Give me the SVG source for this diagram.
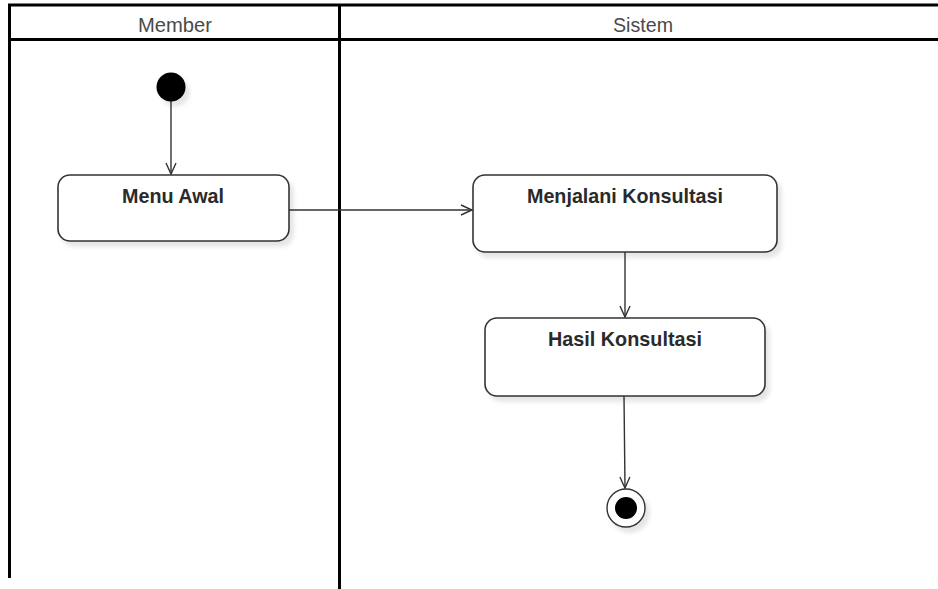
<svg xmlns="http://www.w3.org/2000/svg" width="938" height="589" viewBox="0 0 938 589">
  <style>
    .lane { stroke: #000; stroke-width: 3; fill: none; }
    .hdr { font-family: "Liberation Sans", Arial, sans-serif; font-size: 21px; fill: #4a4a4a; text-anchor: middle; }
    .act rect { fill: #fff; stroke: #333; stroke-width: 1.6; }
    .act text { font-family: "Liberation Sans", Arial, sans-serif; font-size: 21px; font-weight: bold; fill: #2a2a2a; text-anchor: middle; }
    .flow { stroke: #333; stroke-width: 1.4; fill: none; }
  </style>
  <defs>
    <filter id="shadow" x="-10%" y="-10%" width="130%" height="140%">
      <feDropShadow dx="4" dy="5" stdDeviation="2" flood-color="#000" flood-opacity="0.1"/>
    </filter>
    <marker id="open" markerWidth="14" markerHeight="12" refX="12" refY="6" orient="auto" markerUnits="userSpaceOnUse">
      <path d="M1,1 L12,6 L1,11" fill="none" stroke="#333" stroke-width="1.4"/>
    </marker>
  </defs>

  <rect width="938" height="589" fill="#fff"/>

  <!-- swimlanes -->
  <g id="lanes">
    <line class="lane" x1="8" y1="5" x2="938" y2="5"/>
    <line class="lane" x1="8" y1="39.5" x2="938" y2="39.5"/>
    <line class="lane" x1="9.5" y1="4" x2="9.5" y2="578"/>
    <line class="lane" x1="339.5" y1="4" x2="339.5" y2="589"/>
    <text class="hdr" x="175" y="32" textLength="74" lengthAdjust="spacingAndGlyphs">Member</text>
    <text class="hdr" x="643" y="32" textLength="60" lengthAdjust="spacingAndGlyphs">Sistem</text>
  </g>

  <!-- connectors -->
  <g id="connectors">
    <line class="flow" x1="171" y1="101" x2="171" y2="174" marker-end="url(#open)"/>
    <line class="flow" x1="289" y1="210" x2="472" y2="210" marker-end="url(#open)"/>
    <line class="flow" x1="625" y1="252" x2="625" y2="317" marker-end="url(#open)"/>
    <line class="flow" x1="624" y1="396" x2="625" y2="488" marker-end="url(#open)"/>
  </g>

  <g id="start">
    <circle cx="171" cy="87" r="14.5" fill="#000" filter="url(#shadow)"/>
  </g>

  <g id="menu-awal" class="act">
    <rect x="58" y="175" width="231" height="66" rx="12" filter="url(#shadow)"/>
    <text x="173" y="203" textLength="102" lengthAdjust="spacingAndGlyphs">Menu Awal</text>
  </g>

  <g id="menjalani-konsultasi" class="act">
    <rect x="473" y="175" width="304" height="77" rx="12" filter="url(#shadow)"/>
    <text x="625" y="203" textLength="196" lengthAdjust="spacingAndGlyphs">Menjalani Konsultasi</text>
  </g>

  <g id="hasil-konsultasi" class="act">
    <rect x="485" y="318" width="280" height="78" rx="12" filter="url(#shadow)"/>
    <text x="625" y="346" textLength="154" lengthAdjust="spacingAndGlyphs">Hasil Konsultasi</text>
  </g>

  <g id="end">
    <circle cx="626" cy="508" r="19" fill="#fff" stroke="#333" stroke-width="1.4" filter="url(#shadow)"/>
    <circle cx="626" cy="508" r="11" fill="#000"/>
  </g>
</svg>
